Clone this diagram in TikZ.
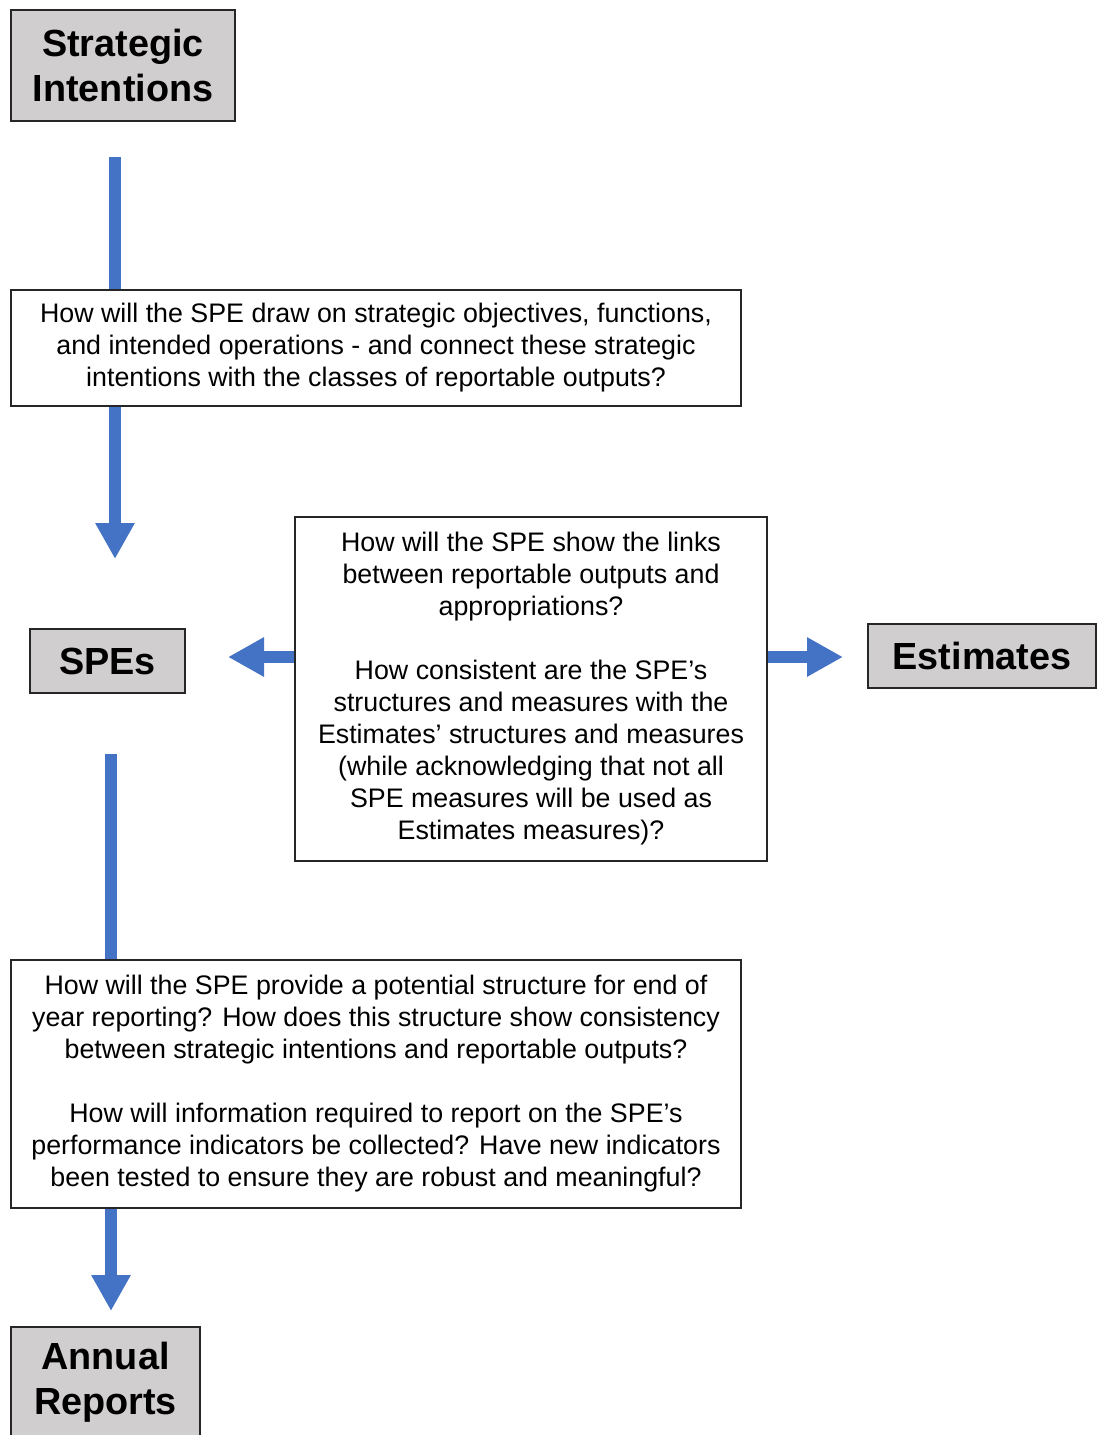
\documentclass[tikz,border=0pt]{standalone}
\usepackage{fontspec}
\setmainfont{Liberation Sans}
\usetikzlibrary{arrows.meta}
\definecolor{flowblue}{HTML}{4472C4}
\definecolor{boxgray}{HTML}{D0CECE}
\definecolor{edge}{HTML}{262626}
\begin{document}
\begin{tikzpicture}[x=1pt,y=-1pt,
  title/.style={draw=edge,line width=1.5pt,fill=boxgray,inner sep=0pt,align=center,
    font=\fontsize{37.8}{45}\selectfont\bfseries},
  question/.style={draw=edge,line width=1.2pt,fill=white,inner sep=0pt,align=center,
    font=\fontsize{26.8}{32}\selectfont},
  bar/.style={draw=flowblue,line width=12pt},
  arr/.style={draw=flowblue,line width=12pt,-{Triangle[width=37pt,length=36pt]}}]
\useasboundingbox (0,0) rectangle (1097,1435);
% title boxes
\node[title,minimum width=224pt,minimum height=111pt] (si) at (123,65.5) {Strategic\\Intentions};
\node[title,minimum width=155pt,minimum height=64pt] (spe) at (107.5,661) {SPEs};
\node[title,minimum width=228pt,minimum height=64pt] (est) at (982,656) {Estimates};
\node[title,minimum width=189pt,minimum height=111pt] (ar) at (105.5,1382.5) {Annual\\Reports};
% question boxes
\node[question,minimum width=730pt,minimum height=116pt] (q1) at (376,348)
  {How will the SPE draw on strategic objectives, functions,\\
   and intended operations - and connect these strategic\\
   intentions with the classes of reportable outputs?};
\node[question,minimum width=472pt,minimum height=344pt] (q2) at (531,689)
  {How will the SPE show the links\\
   between reportable outputs and\\
   appropriations?\\[32pt]
   How consistent are the SPE’s\\
   structures and measures with the\\
   Estimates’ structures and measures\\
   (while acknowledging that not all\\
   SPE measures will be used as\\
   Estimates measures)?};
\node[question,minimum width=730pt,minimum height=248pt] (q3) at (376,1084)
  {How will the SPE provide a potential structure for end of\\
   year reporting? How does this structure show consistency\\
   between strategic intentions and reportable outputs?\\[32pt]
   How will information required to report on the SPE’s\\
   performance indicators be collected? Have new indicators\\
   been tested to ensure they are robust and meaningful?};
% connector end points
\coordinate (c1) at (115,157);
\coordinate (c2) at (115,559);
\coordinate (c3) at (228,657);
\coordinate (c4) at (843,657);
\coordinate (c5) at (111,754);
\coordinate (c6) at (111,1311);
% connectors
\draw[bar] (c1) -- (c1 |- q1.north);
\draw[arr] (q1.south -| c1) -- (c2);
\draw[arr] (q2.west |- c3) -- (c3);
\draw[arr] (q2.east |- c4) -- (c4);
\draw[bar] (c5) -- (c5 |- q3.north);
\draw[arr] (q3.south -| c6) -- (c6);
\end{tikzpicture}
\end{document}
